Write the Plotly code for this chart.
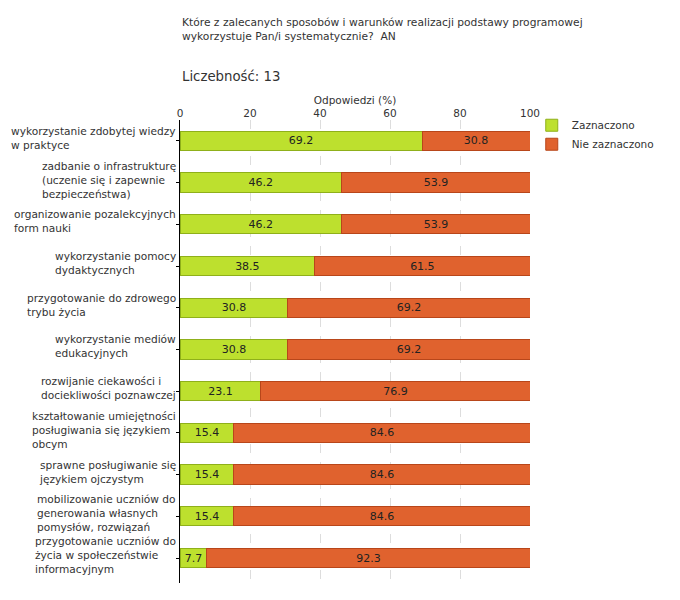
import plotly.graph_objects as go

categories = [
    "wykorzystanie zdobytej wiedzy<br>w praktyce",
    "zadbanie o infrastrukturę<br>(uczenie się i zapewnie<br>bezpieczeństwa)",
    "organizowanie pozalekcyjnych<br>form nauki",
    "wykorzystanie pomocy<br>dydaktycznych",
    "przygotowanie do zdrowego<br>trybu życia",
    "wykorzystanie mediów<br>edukacyjnych",
    "rozwijanie ciekawości i<br>dociekliwości poznawczej",
    "kształtowanie umiejętności<br>posługiwania się językiem<br>obcym",
    "sprawne posługiwanie się<br>językiem ojczystym",
    "mobilizowanie uczniów do<br>generowania własnych<br>pomysłów, rozwiązań",
    "przygotowanie uczniów do<br>życia w społeczeństwie<br>informacyjnym",
]
zaznaczono = [69.2, 46.2, 46.2, 38.5, 30.8, 30.8, 23.1, 15.4, 15.4, 15.4, 7.7]
nie_zaznaczono = [30.8, 53.9, 53.9, 61.5, 69.2, 69.2, 76.9, 84.6, 84.6, 84.6, 92.3]
series_names = ["Zaznaczono", "Nie zaznaczono"]
x_ticks = [0, 20, 40, 60, 80, 100]

title_text = "Które z zalecanych sposobów i warunków realizacji podstawy programowej<br>wykorzystuje Pan/i systematycznie?  AN"
count_text = "Liczebność: 13"
axis_title = "Odpowiedzi (%)"

FONT = "DejaVu Sans"
ids = list(range(len(categories)))

fig = go.Figure()
fig.add_trace(go.Bar(
    y=ids, x=zaznaczono, orientation="h", name=series_names[0],
    marker=dict(color="#bde02e", line=dict(color="#8fb01a", width=1)),
    texttemplate="%{x:.1f}", textposition="inside", insidetextanchor="middle",
    textfont=dict(color="#222222", size=11, family=FONT),
))
fig.add_trace(go.Bar(
    y=ids, x=nie_zaznaczono, orientation="h", name=series_names[1],
    marker=dict(color="#e0622e", line=dict(color="#b8461a", width=1)),
    texttemplate="%{x:.1f}", textposition="inside", insidetextanchor="middle",
    textfont=dict(color="#222222", size=11, family=FONT),
))

annotations = []
for i, c in enumerate(categories):
    annotations.append(dict(
        xref="paper", yref="y", x=-0.006, y=i, text=c, showarrow=False,
        xanchor="right", yanchor="middle", align="left", yshift=3,
        font=dict(family=FONT, size=10.6, color="#333333"),
    ))
annotations.append(dict(
    xref="paper", yref="paper", x=0, y=1.2285, text=title_text, showarrow=False,
    xanchor="left", yanchor="top", align="left",
    font=dict(family=FONT, size=10.7, color="#333333"),
))
annotations.append(dict(
    xref="paper", yref="paper", x=0, y=1.0935, text=count_text, showarrow=False,
    xanchor="left", yanchor="middle", align="left",
    font=dict(family=FONT, size=13.3, color="#333333"),
))

fig.update_layout(
    barmode="stack",
    bargap=0.54,
    width=680, height=600,
    margin=dict(l=172, r=158, t=112, b=25, autoexpand=False),
    plot_bgcolor="white", paper_bgcolor="white",
    font=dict(family=FONT, size=10, color="#333333"),
    showlegend=True,
    legend=dict(x=1.005, y=1.02, xanchor="left", yanchor="top",
                font=dict(family=FONT, size=10.5, color="#333333"),
                itemwidth=30, tracegroupgap=0, traceorder="normal",
                bgcolor="rgba(0,0,0,0)"),
    annotations=annotations,
)
fig.update_xaxes(
    side="top", range=[0, 100], tickvals=x_ticks, ticktext=[str(t) for t in x_ticks],
    showgrid=True, gridcolor="#dddddd", griddash="dash", gridwidth=1,
    zeroline=False, showline=False, ticks="", automargin=False,
    tickfont=dict(family=FONT, size=10.5, color="#333333"),
    title=dict(text=axis_title, standoff=0, font=dict(family=FONT, size=10.5, color="#333333")),
)
fig.update_yaxes(
    tickvals=ids, ticktext=[""] * len(ids), autorange="reversed",
    showline=True, linecolor="#000000", linewidth=1, automargin=False,
    ticks="outside", ticklen=3, tickcolor="#000000",
    showgrid=False, zeroline=False,
)

fig.write_html("out.html")
